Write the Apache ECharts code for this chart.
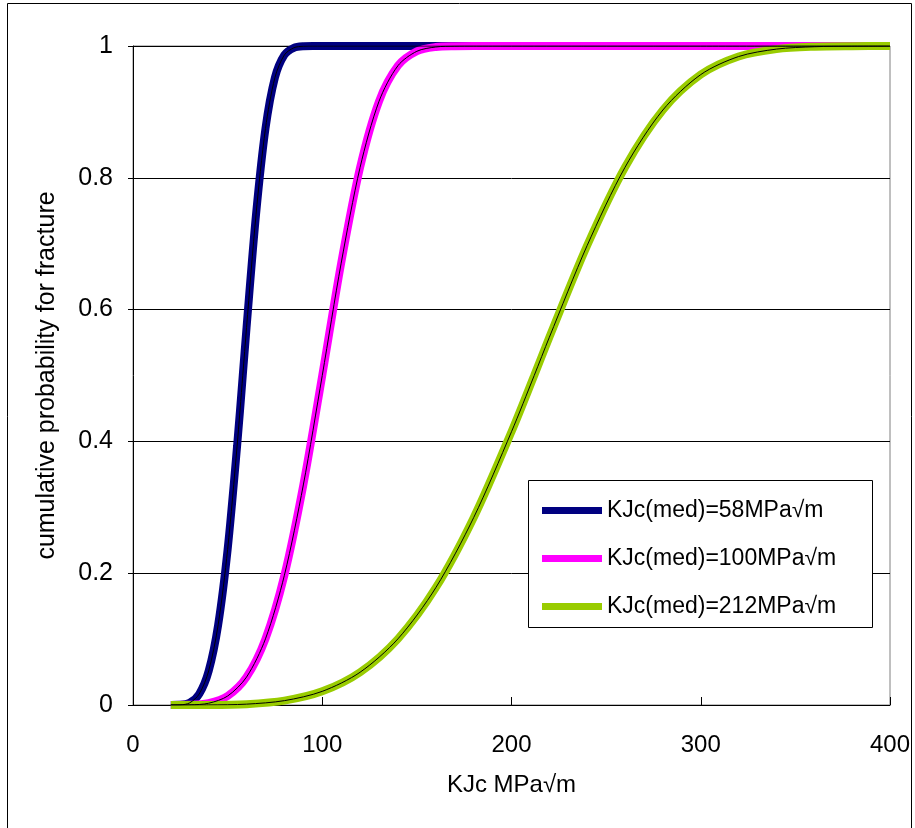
<!DOCTYPE html>
<html>
<head>
<meta charset="utf-8">
<script src="https://cdn.jsdelivr.net/npm/echarts@6/dist/echarts.min.js"></script>
<style>
html,body{margin:0;padding:0;background:#fff;}
#chart{width:915px;height:828px;}
</style>
</head>
<body>
<div id="chart"></div>
<script>
// ---- data ----
const xTicks = [0, 100, 200, 300, 400];
const yTicks = [0, 0.2, 0.4, 0.6, 0.8, 1];
const seriesNames = ['KJc(med)=58MPa√m', 'KJc(med)=100MPa√m', 'KJc(med)=212MPa√m'];

const k58 = [20, 25, 30, 35, 40, 45, 50, 55, 58, 60, 65, 70, 75, 80, 85, 90, 95, 100, 150, 200, 300, 400];
const p58 = [0, 0.0002, 0.0033, 0.0167, 0.0518, 0.1217, 0.236, 0.3927, 0.5, 0.5729, 0.744, 0.8747, 0.9522, 0.9865, 0.9973, 0.9997, 1, 1, 1, 1, 1, 1];

const k100 = [20, 30, 40, 50, 60, 70, 80, 90, 100, 110, 120, 130, 140, 150, 160, 170, 180, 200, 250, 300, 400];
const p100 = [0, 0.0002, 0.0027, 0.0136, 0.0424, 0.1004, 0.1969, 0.3339, 0.5, 0.6705, 0.8158, 0.9161, 0.9701, 0.992, 0.9985, 0.9998, 1, 1, 1, 1, 1];

const k212 = [20, 40, 60, 80, 100, 120, 140, 160, 180, 200, 212, 220, 240, 260, 280, 300, 320, 340, 360, 380, 400];
const p212 = [0, 0.0001, 0.0013, 0.0066, 0.0207, 0.0497, 0.1004, 0.178, 0.2843, 0.4147, 0.5, 0.558, 0.6974, 0.816, 0.9029, 0.9566, 0.984, 0.9953, 0.9989, 0.9998, 1];

const colors = ['#000080', '#ff00ff', '#99cc00'];

function pairs(xs, ys) { return xs.map((x, i) => [x, ys[i]]); }

const sets = [pairs(k58, p58), pairs(k100, p100), pairs(k212, p212)];

const series = [];
sets.forEach((d, i) => {
  series.push({
    name: seriesNames[i], type: 'line', data: d, smooth: 0.3,
    showSymbol: false, symbol: 'none', z: 2 + i, clip: true,
    lineStyle: { color: colors[i], width: 8 }, itemStyle: { color: colors[i] }
  });
});
sets.forEach((d, i) => {
  series.push({
    name: 'fit' + i, type: 'line', data: d, smooth: 0.3,
    showSymbol: false, symbol: 'none', z: 10, clip: true,
    lineStyle: { color: '#000', width: 1 }
  });
});

const chart = echarts.init(document.getElementById('chart'), null, { renderer: 'canvas' });
chart.setOption({
  animation: false,
  backgroundColor: '#fff',
  grid: { left: 133, top: 46, right: 25, bottom: 123, show: true, borderColor: '#808080', borderWidth: 1 },
  graphic: [
    { type: 'rect', shape: { x: 7.5, y: 3.5, width: 904, height: 830 }, style: { fill: 'none', stroke: '#000', lineWidth: 1 }, z: -1 },
    { type: 'rect', shape: { x: 528.5, y: 480.5, width: 344, height: 147 }, style: { fill: '#fff', stroke: '#000', lineWidth: 1 }, z: 50 }
  ],
  legend: {
    data: seriesNames, orient: 'vertical', left: 537, top: 494, itemWidth: 60, itemHeight: 7, itemGap: 25,
    icon: 'rect', z: 60,
    textStyle: { fontSize: 23, color: '#000', fontFamily: 'Liberation Sans' }
  },
  xAxis: {
    type: 'value', min: 0, max: 400, interval: 100,
    name: 'KJc MPa√m', nameLocation: 'middle', nameGap: 68,
    nameTextStyle: { fontSize: 24, color: '#000', fontFamily: 'Liberation Sans' },
    axisLine: { show: true, lineStyle: { color: '#000', width: 1 } },
    axisTick: { show: true, inside: true, length: 8, lineStyle: { color: '#000' } },
    axisLabel: { fontSize: 24, color: '#000', margin: 28, fontFamily: 'Liberation Sans' },
    splitLine: { show: false }
  },
  yAxis: {
    type: 'value', min: 0, max: 1, interval: 0.2,
    name: 'cumulative probability for fracture', nameLocation: 'middle', nameGap: 73,
    nameTextStyle: { fontSize: 25, color: '#000', fontFamily: 'Liberation Sans' },
    axisLine: { show: true, lineStyle: { color: '#000', width: 1 } },
    axisTick: { show: true, inside: false, length: 5, lineStyle: { color: '#000' } },
    axisLabel: { fontSize: 25, color: '#000', margin: 20, fontFamily: 'Liberation Sans',
      formatter: v => (Math.abs(v) < 1e-9 ? '0' : (Math.abs(v - 1) < 1e-9 ? '1' : String(+v.toFixed(1)))) },
    splitLine: { show: true, lineStyle: { color: '#000', width: 1 } }
  },
  series: series
});
</script>
</body>
</html>
